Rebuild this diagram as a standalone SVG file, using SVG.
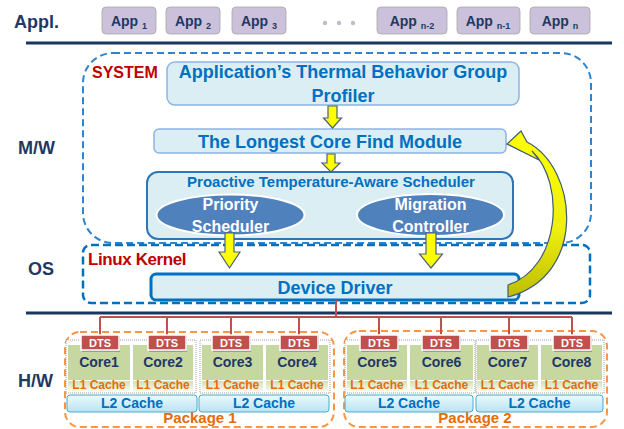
<svg xmlns="http://www.w3.org/2000/svg" width="624" height="429" viewBox="0 0 624 429">
<style>
text{font-family:"Liberation Sans",Arial,sans-serif;font-weight:bold}
.lay{fill:#1f3864;font-size:18px}
.app rect{fill:#ccc1da;stroke:#a6a6a6;stroke-width:0.8}
.app text{fill:#1f3864;font-size:14px;text-anchor:middle}
.sub{font-size:9px}
.sep{stroke:#17375e;stroke-width:3}
.mod{fill:#dbeef4;stroke:#8eb4e3;stroke-width:1.5}
.mt{fill:#0070c0;text-anchor:middle}
.ell{fill:#4f81bd;stroke:#fff;stroke-width:2}
.et{fill:#fff;font-size:16px;text-anchor:middle}
.ya{fill:#ffff00;stroke:#4a6080;stroke-width:1.2}
.bus{stroke:#c0504d;stroke-width:2;fill:none}
.pkg{fill:none;stroke:#f79646;stroke-width:2;stroke-dasharray:7 4}
.pan{fill:#fff;stroke:#8c8c8c;stroke-width:0.8;stroke-dasharray:1 1}
.core{fill:#c6d79f}
.l1{fill:url(#gl1)}
.ct{fill:#1f3864;font-size:14px;text-anchor:middle}
.l1t{fill:#e46c0a;font-size:12px;text-anchor:middle}
.l2{fill:url(#gl2);stroke:#4bacc6;stroke-width:1}
.l2t{fill:#0070c0;font-size:14px;text-anchor:middle}
.dts{fill:#c0504d;stroke:#fff;stroke-width:1.5}
.dsh{fill:#9a9a9a}
.dt{fill:#fff;font-size:11px;text-anchor:middle}
.pt{fill:#e46c0a;font-size:15px;text-anchor:middle}
</style>
<defs>
<linearGradient id="gl1" x1="0" y1="0" x2="0" y2="1"><stop offset="0" stop-color="#d2e1b3"/><stop offset="1" stop-color="#f5f9ee"/></linearGradient>
<linearGradient id="gl2" x1="0" y1="0" x2="0" y2="1"><stop offset="0" stop-color="#eef9fd"/><stop offset="1" stop-color="#b9e3f5"/></linearGradient>
<linearGradient id="gcur" x1="0" y1="0" x2="0" y2="1"><stop offset="0" stop-color="#ffff00"/><stop offset="0.6" stop-color="#eeee10"/><stop offset="1" stop-color="#bdbd00"/></linearGradient>
</defs>
<rect width="624" height="429" fill="#fff"/>

<!-- layer labels -->
<g id="layers">
<text class="lay" x="14" y="28">Appl.</text>
<text class="lay" x="18" y="154" font-size="19">M/W</text>
<text class="lay" x="28" y="275">OS</text>
<text class="lay" x="18" y="387" font-size="19">H/W</text>
<line class="sep" x1="26" y1="43" x2="612" y2="43"/>
<line class="sep" x1="26" y1="313" x2="612" y2="313"/>
</g>

<!-- applications -->
<g id="apps" class="app">
<g id="app1"><rect x="102" y="7" width="54" height="27" rx="4"/><text x="129" y="26">App <tspan class="sub" dy="3">1</tspan></text></g>
<g id="app2"><rect x="166" y="7" width="54" height="27" rx="4"/><text x="193" y="26">App <tspan class="sub" dy="3">2</tspan></text></g>
<g id="app3"><rect x="232" y="7" width="54" height="27" rx="4"/><text x="259" y="26">App <tspan class="sub" dy="3">3</tspan></text></g>
<g id="dots" fill="#bcbccc"><circle cx="325" cy="23" r="2.2"/><circle cx="339" cy="23" r="2.2"/><circle cx="353" cy="23" r="2.2"/></g>
<g id="appn2"><rect x="377" y="7" width="70" height="27" rx="4"/><text x="412" y="26">App <tspan class="sub" dy="3">n-2</tspan></text></g>
<g id="appn1"><rect x="457" y="7" width="63" height="27" rx="4"/><text x="488" y="26">App <tspan class="sub" dy="3">n-1</tspan></text></g>
<g id="appn"><rect x="530" y="7" width="60" height="27" rx="4"/><text x="560" y="26">App <tspan class="sub" dy="3">n</tspan></text></g>
</g>

<!-- containers -->
<g id="system">
<rect x="83" y="53" width="508" height="190" rx="30" fill="none" stroke="#2e84d0" stroke-width="2" stroke-dasharray="7 4"/>
<text x="92" y="78" fill="#c00000" font-size="16">SYSTEM</text>
</g>
<g id="kernel">
<rect x="83" y="245" width="507" height="58" rx="8" fill="none" stroke="#0070c0" stroke-width="2.5" stroke-dasharray="8 4"/>
<text x="88" y="265" fill="#c00000" font-size="17" letter-spacing="-0.4">Linux Kernel</text>
</g>

<g id="profiler">
<rect class="mod" x="167" y="62" width="352" height="43" rx="8"/>
<text class="mt" x="343" y="78" font-size="18">Application’s Thermal Behavior Group</text>
<text class="mt" x="343" y="102" font-size="18">Profiler</text>
</g>
<g id="longest">
<rect class="mod" x="154" y="129" width="352" height="24" rx="5"/>
<text class="mt" x="330" y="148" font-size="18">The Longest Core Find Module</text>
</g>
<g id="scheduler">
<rect x="147" y="172" width="366" height="67" rx="11" fill="#dbeef4" stroke="#2e75b6" stroke-width="2"/>
<text class="mt" x="331" y="187" font-size="15">Proactive Temperature-Aware Scheduler</text>
</g>
<g id="priority">
<ellipse class="ell" cx="230.5" cy="215" rx="74" ry="20.5"/>
<text class="et" x="230.5" y="210">Priority</text>
<text class="et" x="230.5" y="232">Scheduler</text>
</g>
<g id="migration">
<ellipse class="ell" cx="430.5" cy="215" rx="73.5" ry="21"/>
<text class="et" x="430.5" y="210">Migration</text>
<text class="et" x="430.5" y="232">Controller</text>
</g>
<g id="driver">
<rect x="151" y="274" width="368" height="26" rx="5" fill="#dbeef4" stroke="#0070c0" stroke-width="3"/>
<text class="mt" x="335" y="294" font-size="18">Device Driver</text>
</g>

<!-- hardware -->
<g id="package1">
<rect class="pkg" x="65" y="332" width="269" height="95" rx="15"/>
<text class="pt" x="200" y="423">Package 1</text>
</g>
<g id="package2">
<rect class="pkg" x="344" y="331" width="263" height="96" rx="15"/>
<text class="pt" x="475" y="423">Package 2</text>
</g>

<g id="panels">
<rect class="pan" x="66" y="340" width="130" height="53"/>
<rect class="pan" x="200" y="340" width="130" height="53"/>
<rect class="pan" x="345" y="340" width="130" height="53"/>
<rect class="pan" x="476" y="340" width="128" height="53"/>
</g>

<g id="core1"><rect class="core" x="68" y="345" width="62" height="35"/><rect class="l1" x="68" y="381" width="62" height="10"/><text class="ct" x="99" y="367">Core1</text><text class="l1t" x="99" y="389">L1 Cache</text></g>
<g id="core2"><rect class="core" x="133" y="345" width="60" height="35"/><rect class="l1" x="133" y="381" width="60" height="10"/><text class="ct" x="163" y="367">Core2</text><text class="l1t" x="163" y="389">L1 Cache</text></g>
<g id="core3"><rect class="core" x="202" y="345" width="61" height="35"/><rect class="l1" x="202" y="381" width="61" height="10"/><text class="ct" x="232.5" y="367">Core3</text><text class="l1t" x="232.5" y="389">L1 Cache</text></g>
<g id="core4"><rect class="core" x="266" y="345" width="62" height="35"/><rect class="l1" x="266" y="381" width="62" height="10"/><text class="ct" x="297" y="367">Core4</text><text class="l1t" x="297" y="389">L1 Cache</text></g>
<g id="core5"><rect class="core" x="347" y="345" width="60" height="35"/><rect class="l1" x="347" y="381" width="60" height="10"/><text class="ct" x="377" y="367">Core5</text><text class="l1t" x="377" y="389">L1 Cache</text></g>
<g id="core6"><rect class="core" x="410" y="345" width="63" height="35"/><rect class="l1" x="410" y="381" width="63" height="10"/><text class="ct" x="441.5" y="367">Core6</text><text class="l1t" x="441.5" y="389">L1 Cache</text></g>
<g id="core7"><rect class="core" x="477" y="345" width="61" height="35"/><rect class="l1" x="477" y="381" width="61" height="10"/><text class="ct" x="507.5" y="367">Core7</text><text class="l1t" x="507.5" y="389">L1 Cache</text></g>
<g id="core8"><rect class="core" x="541" y="345" width="61" height="35"/><rect class="l1" x="541" y="381" width="61" height="10"/><text class="ct" x="571.5" y="367">Core8</text><text class="l1t" x="571.5" y="389">L1 Cache</text></g>

<g id="l2caches">
<g id="l2a"><rect class="l2" x="67" y="395" width="130" height="17" rx="3"/><text class="l2t" x="132" y="408">L2 Cache</text></g>
<g id="l2b"><rect class="l2" x="199" y="395" width="130" height="17" rx="3"/><text class="l2t" x="264" y="408">L2 Cache</text></g>
<g id="l2c"><rect class="l2" x="345" y="395" width="128" height="17" rx="3"/><text class="l2t" x="409" y="408">L2 Cache</text></g>
<g id="l2d"><rect class="l2" x="476" y="395" width="127" height="17" rx="3"/><text class="l2t" x="539.5" y="408">L2 Cache</text></g>
</g>

<!-- connectors -->
<g id="connectors">
<path class="bus" d="M336,300 V317 M100,317 H572 M100,317 V335 M167,317 V335 M231,317 V335 M299,317 V335 M379,317 V335 M441,317 V335 M509,317 V335 M572,317 V335"/>
<path class="ya" d="M328,106 H337 V118 H341.5 L332.5,128 L323.5,118 H328 Z"/>
<path class="ya" d="M327,154 H335 V163 H340 L331,172 L322,163 H327 Z"/>
<path class="ya" d="M225,233 H234 V252 H240 L229.5,268 L219,252 H225 Z"/>
<path class="ya" d="M426,233 H436 V254 H442.5 L431,268 L419.5,254 H426 Z"/>
<path d="M507,144 L521,131 L527,142 C578,168 588,276 508,297 L508,285 C560,268 566,184 532,151 L539,160 Z" fill="url(#gcur)" stroke="#3f5a78" stroke-width="1.2"/>
</g>

<g id="dts">
<g id="dts1"><rect class="dsh" x="82" y="336" width="38" height="16"/><rect class="dts" x="81" y="335" width="38" height="15"/><text class="dt" x="100" y="347">DTS</text></g>
<g id="dts2"><rect class="dsh" x="149" y="336" width="38" height="16"/><rect class="dts" x="148" y="335" width="38" height="15"/><text class="dt" x="167" y="347">DTS</text></g>
<g id="dts3"><rect class="dsh" x="213" y="336" width="38" height="16"/><rect class="dts" x="212" y="335" width="38" height="15"/><text class="dt" x="231" y="347">DTS</text></g>
<g id="dts4"><rect class="dsh" x="281" y="336" width="38" height="16"/><rect class="dts" x="280" y="335" width="38" height="15"/><text class="dt" x="299" y="347">DTS</text></g>
<g id="dts5"><rect class="dsh" x="361" y="336" width="38" height="16"/><rect class="dts" x="360" y="335" width="38" height="15"/><text class="dt" x="379" y="347">DTS</text></g>
<g id="dts6"><rect class="dsh" x="423" y="336" width="38" height="16"/><rect class="dts" x="422" y="335" width="38" height="15"/><text class="dt" x="441" y="347">DTS</text></g>
<g id="dts7"><rect class="dsh" x="491" y="336" width="38" height="16"/><rect class="dts" x="490" y="335" width="38" height="15"/><text class="dt" x="509" y="347">DTS</text></g>
<g id="dts8"><rect class="dsh" x="554" y="336" width="38" height="16"/><rect class="dts" x="553" y="335" width="38" height="15"/><text class="dt" x="572" y="347">DTS</text></g>
</g>
</svg>
